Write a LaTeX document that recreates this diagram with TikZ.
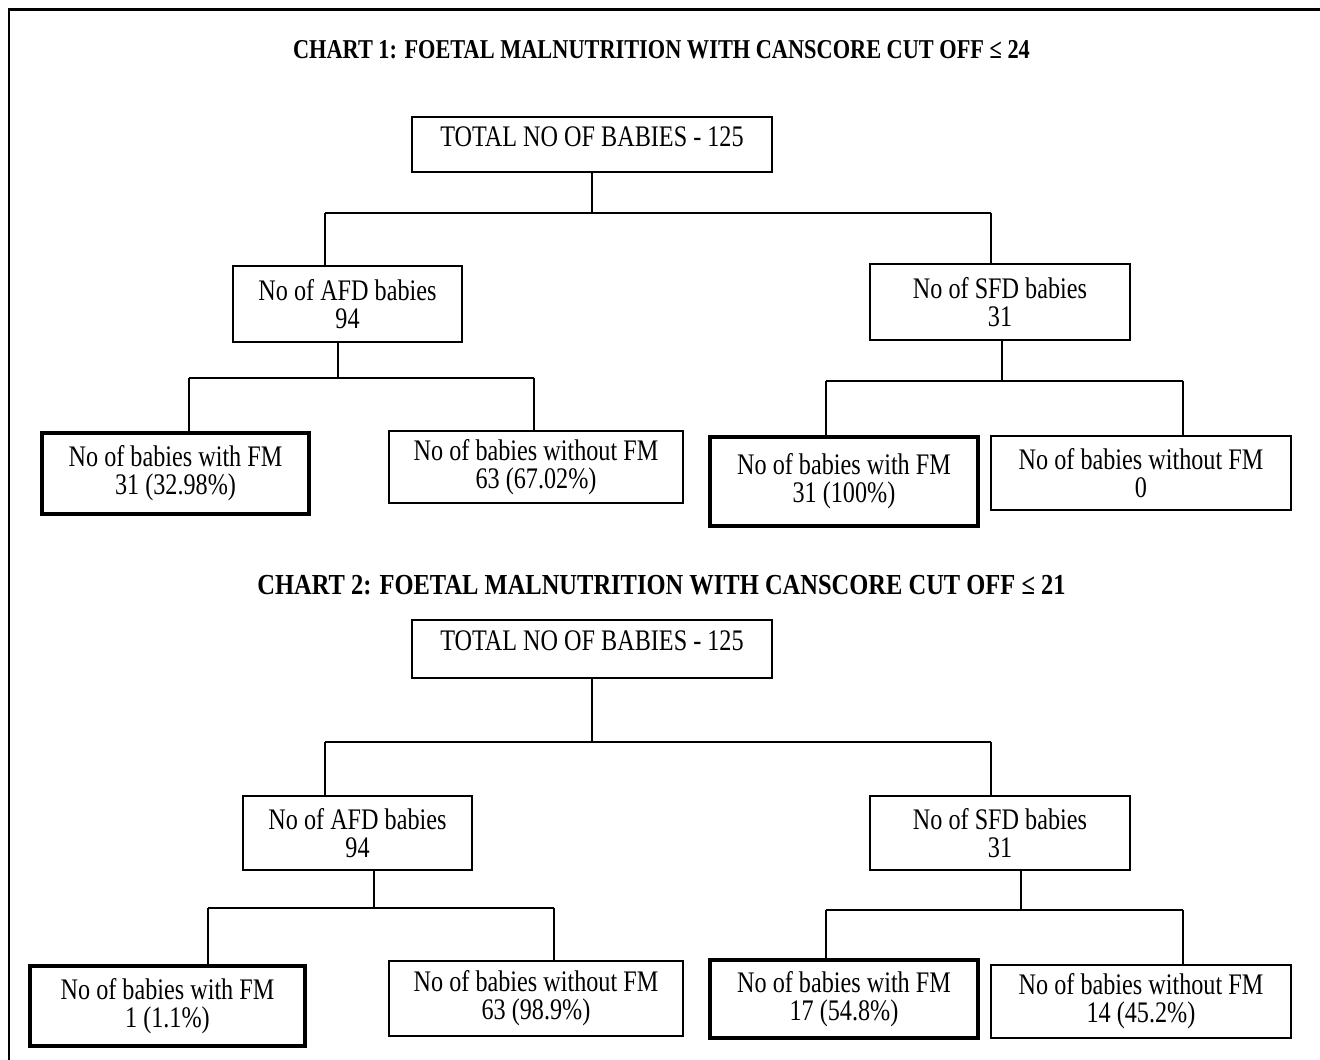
\documentclass[tikz,border=0pt]{standalone}
\usepackage{fontspec}
\usepackage{tikz}
\usetikzlibrary{positioning}
\newfontfamily\boxfont{Liberation Serif}[FakeStretch=0.81]
\newfontfamily\titlefont{Liberation Serif}[FakeStretch=0.82]
\newfontfamily\titlefontb{Liberation Serif}[FakeStretch=0.845]
\tikzset{%
box/.style 2 args={draw,line width=1.1pt,minimum width=#1*0.02cm,minimum height=#2*0.02cm,inner sep=0pt,align=center,font=\boxfont\fontsize{17pt}{16pt}\selectfont},
fmbox/.style 2 args={box={#1}{#2},line width=2.8pt},
topbox/.style={text depth=9pt},
title/.style={font=\bfseries\fontsize{#1}{#1}\selectfont,inner sep=0pt},
branch/.style={line width=1.1pt},
frame/.style={line width=1.7pt}
}
\begin{document}
\begin{tikzpicture}[x=0.02cm,y=-0.02cm]
  \useasboundingbox (0,0) rectangle (1320,1060);

  \draw[frame] (9,1060) -- (9,10) -- (1320,10);

    % chart 1
    \node[title=15.5pt] (head1) at (661.5,50) {\titlefont CHART 1: FOETAL MALNUTRITION WITH CANSCORE CUT OFF ≤ 24};

    \node[box={360}{55},topbox] (tot1) at (592,144.5) {TOTAL NO OF BABIES - 125};
    \node[box={229}{76}] (afd1) at (347.5,304) {No of AFD babies\\94};
    \node[box={260}{76}] (sfd1) at (1000,302) {No of SFD babies\\31};

    \node[fmbox={267}{81}] (fm1) at (175.5,473.5) {No of babies with FM\\31 (32.98\%)};
    \node[box={294}{72}] (nofm1) at (536,467) {No of babies without FM\\63 (67.02\%)};
    \node[fmbox={268}{89}] (fm2) at (844,481.5) {No of babies with FM\\31 (100\%)};
    \node[box={300}{74}] (nofm2) at (1141,473) {No of babies without FM\\0};

    \coordinate (a1l) at (325,213);
    \coordinate (a1r) at (991,213);
    \coordinate (b1m) at (338,378);
    \coordinate (b1l) at (189,378);
    \coordinate (b1r) at (534,378);
    \coordinate (c1m) at (1002,381);
    \coordinate (c1l) at (826,381);
    \coordinate (c1r) at (1183,381);

    \draw[branch] (tot1.south) -- (tot1.south |- a1l);
    \draw[branch] (a1l) -- (a1r);
    \draw[branch] (a1l) -- (a1l |- afd1.north);
    \draw[branch] (a1r) -- (a1r |- sfd1.north);

    \draw[branch] (b1m |- afd1.south) -- (b1m);
    \draw[branch] (b1l) -- (b1r);
    \draw[branch] (b1l) -- (b1l |- fm1.north);
    \draw[branch] (b1r) -- (b1r |- nofm1.north);

    \draw[branch] (c1m |- sfd1.south) -- (c1m);
    \draw[branch] (c1l) -- (c1r);
    \draw[branch] (c1l) -- (c1l |- fm2.north);
    \draw[branch] (c1r) -- (c1r |- nofm2.north);

    % chart 2
    \node[title=16.5pt] (head2) at (661.5,585) {\titlefontb CHART 2: FOETAL MALNUTRITION WITH CANSCORE CUT OFF ≤ 21};

    \node[box={360}{58},topbox] (tot2) at (592,649) {TOTAL NO OF BABIES - 125};
    \node[box={229}{74}] (afd2) at (357.5,833) {No of AFD babies\\94};
    \node[box={260}{74}] (sfd2) at (1000,833) {No of SFD babies\\31};

    \node[fmbox={275}{80}] (fm3) at (167.5,1006) {No of babies with FM\\1 (1.1\%)};
    \node[box={294}{75}] (nofm3) at (536,998.5) {No of babies without FM\\63 (98.9\%)};
    \node[fmbox={268}{78}] (fm4) at (844,999) {No of babies with FM\\17 (54.8\%)};
    \node[box={300}{73}] (nofm4) at (1141,1001.5) {No of babies without FM\\14 (45.2\%)};

    \coordinate (a2l) at (325,742);
    \coordinate (a2r) at (991,742);
    \coordinate (b2m) at (374,908);
    \coordinate (b2l) at (208,908);
    \coordinate (b2r) at (554,908);
    \coordinate (c2m) at (1021,910);
    \coordinate (c2l) at (826,910);
    \coordinate (c2r) at (1183,910);

    \draw[branch] (tot2.south) -- (tot2.south |- a2l);
    \draw[branch] (a2l) -- (a2r);
    \draw[branch] (a2l) -- (a2l |- afd2.north);
    \draw[branch] (a2r) -- (a2r |- sfd2.north);

    \draw[branch] (b2m |- afd2.south) -- (b2m);
    \draw[branch] (b2l) -- (b2r);
    \draw[branch] (b2l) -- (b2l |- fm3.north);
    \draw[branch] (b2r) -- (b2r |- nofm3.north);

    \draw[branch] (c2m |- sfd2.south) -- (c2m);
    \draw[branch] (c2l) -- (c2r);
    \draw[branch] (c2l) -- (c2l |- fm4.north);
    \draw[branch] (c2r) -- (c2r |- nofm4.north);
  \end{tikzpicture}
\end{document}
